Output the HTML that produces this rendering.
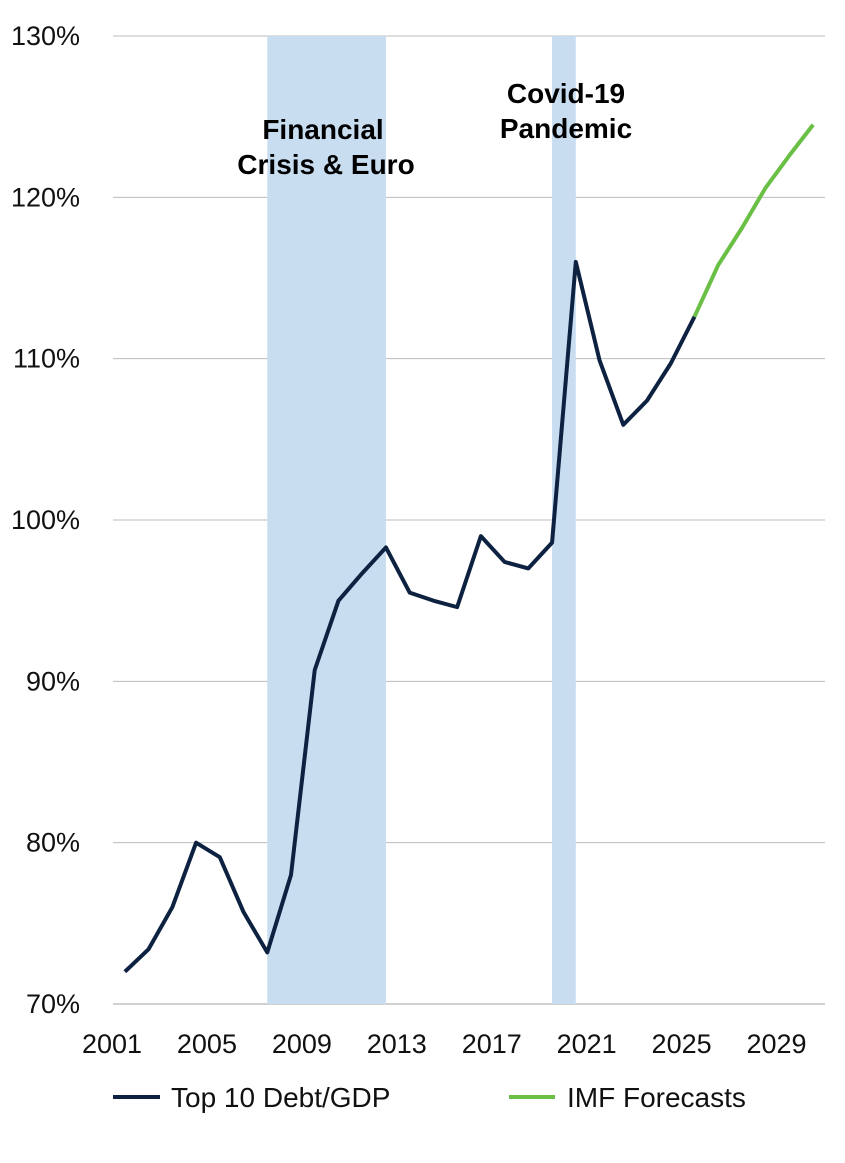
<!DOCTYPE html>
<html><head><meta charset="utf-8"><style>
body{margin:0;background:#fff;}
svg text{font-family:"Liberation Sans",sans-serif;}
</style></head><body>
<svg width="845" height="1158">
<g id="grid"></g><g id="shade"></g><g id="lines"></g><g id="labels"></g>
<text x="323" y="139" text-anchor="middle" font-size="28" font-weight="bold">Financial</text>
<text x="326" y="174" text-anchor="middle" font-size="28" font-weight="bold">Crisis &amp; Euro</text>
<text x="566" y="103" text-anchor="middle" font-size="28" font-weight="bold">Covid-19</text>
<text x="566" y="138" text-anchor="middle" font-size="28" font-weight="bold">Pandemic</text>
<line x1="113" y1="1097" x2="160" y2="1097" stroke="#0d2140" stroke-width="4"/>
<text x="171" y="1107" font-size="28" fill="#111">Top 10 Debt/GDP</text>
<line x1="509" y1="1097" x2="555" y2="1097" stroke="#6abf45" stroke-width="4"/>
<text x="567" y="1107" font-size="28" fill="#111">IMF Forecasts</text>
</svg>
<script>
const years=[2001,2002,2003,2004,2005,2006,2007,2008,2009,2010,2011,2012,2013,2014,2015,2016,2017,2018,2019,2020,2021,2022,2023,2024,2025,2026,2027,2028,2029,2030];
const debt=[72.0,73.4,76.0,80.0,79.1,75.7,73.2,78.0,90.7,95.0,96.7,98.3,95.5,95.0,94.6,99.0,97.4,97.0,98.6,116.0,109.9,105.9,107.4,109.7,112.6];
const forecastYears=[2025,2026,2027,2028,2029,2030];
const forecast=[112.6,115.8,118.1,120.6,122.6,124.5];
const yTicks=[70,80,90,100,110,120,130];
const xTickYears=[2001,2005,2009,2013,2017,2021,2025,2029];
const shades=[[2007,2012],[2019,2020]];
const NS="http://www.w3.org/2000/svg";
const L=113,R=825,T=36,B=1004,step=(R-L)/years.length;
const xc=y=>L+(y-2001+0.5)*step;
const yv=v=>B-(v-70)/60*(B-T);
function mk(t,a,p){const e=document.createElementNS(NS,t);for(const k in a)e.setAttribute(k,a[k]);document.getElementById(p).appendChild(e);return e;}
yTicks.forEach(v=>{
 const l=mk('line',{x1:L,x2:R,y1:yv(v),y2:yv(v),stroke:v===70?'#a0a0a0':'#bdbdbd','stroke-width':1},'grid');
 
 
 const t=mk('text',{x:80,y:yv(v)+9,'text-anchor':'end','font-size':27,fill:'#111'},'labels');
 t.textContent=v+'%';
 
 
});
xTickYears.forEach(y=>{
 const t=mk('text',{x:L+(y-2001)*step-1,y:1053,'text-anchor':'middle','font-size':27,fill:'#111'},'labels');
 t.textContent=y;
 
 
});
shades.forEach((s,i)=>{
 const r=mk('rect',{x:xc(s[0]),y:T,width:xc(s[1])-xc(s[0]),height:B-T,fill:'#c9ddf1'},'shade');
 
 
});
const p1=mk('polyline',{points:debt.map((v,i)=>xc(years[i])+','+yv(v)).join(' '),fill:'none',stroke:'#0d2140','stroke-width':4,'stroke-linejoin':'round'},'lines');


const p2=mk('polyline',{points:forecast.map((v,i)=>xc(forecastYears[i])+','+yv(v)).join(' '),fill:'none',stroke:'#6abf45','stroke-width':4,'stroke-linejoin':'round'},'lines');


</script>
</body></html>
